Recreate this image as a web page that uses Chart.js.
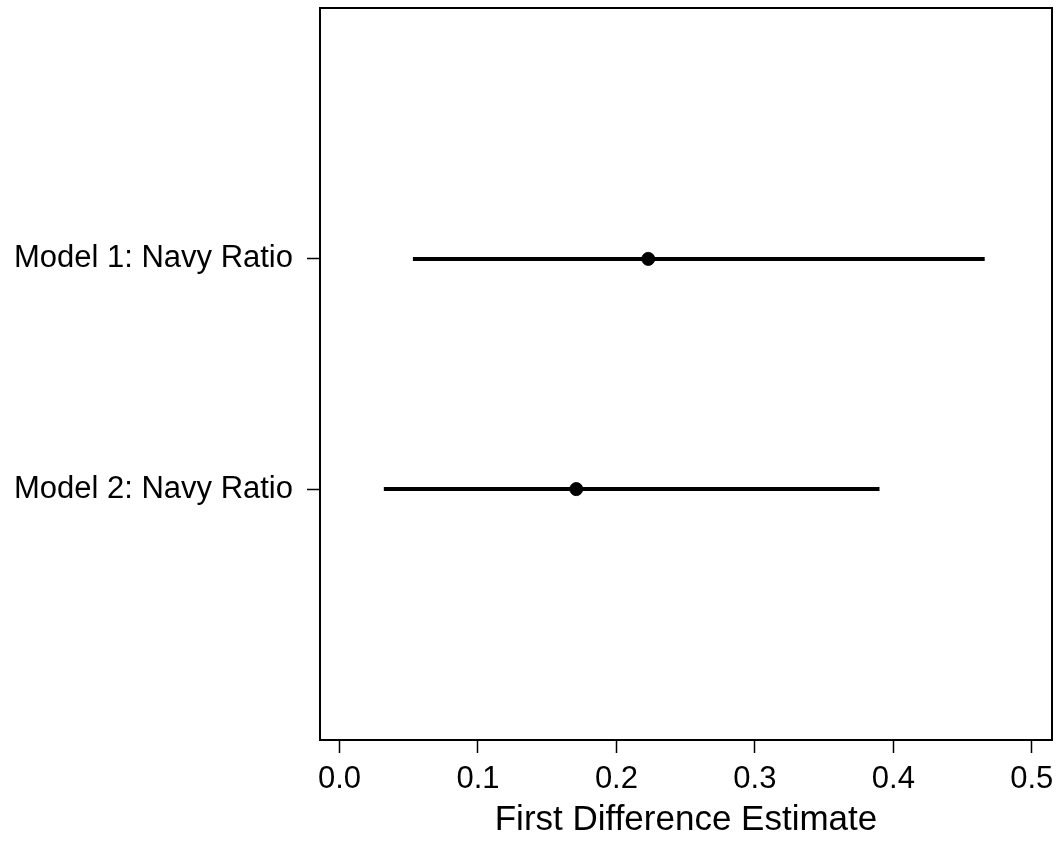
<!DOCTYPE html>
<html>
<head>
<meta charset="utf-8">
<script src="https://cdn.jsdelivr.net/npm/chart.js@4/dist/chart.umd.min.js"></script>
<style>
  body { margin: 0; background: #fff; }
  canvas { display: block; }
</style>
</head>
<body>
<canvas id="fdChart" width="1060" height="841"></canvas>
<script>
// models and first-difference estimates with intervals
const models = ["Model 1: Navy Ratio", "Model 2: Navy Ratio"];
const estimates = [0.223, 0.171];
const lower = [0.053, 0.032];
const upper = [0.466, 0.390];
const xTicks = [0.0, 0.1, 0.2, 0.3, 0.4, 0.5];

// rows counted from bottom, first model on top
const rowPos = models.map((m, i) => models.length - i);

const font = "'Liberation Sans', Arial, sans-serif";

const datasets = [];
models.forEach((m, i) => {
  datasets.push({
    type: "line",
    data: [{ x: lower[i], y: rowPos[i] }, { x: upper[i], y: rowPos[i] }],
    borderColor: "#000",
    borderWidth: 4,
    pointRadius: 0,
    fill: false
  });
});
datasets.push({
  type: "scatter",
  data: models.map((m, i) => ({ x: estimates[i], y: rowPos[i] })),
  backgroundColor: "#000",
  borderColor: "#000",
  pointRadius: 6.5,
  pointHoverRadius: 6.5
});

// box round the plot area
const boxPlugin = {
  id: "box",
  afterDraw(chart) {
    const a = chart.chartArea;
    const ctx = chart.ctx;
    ctx.save();
    ctx.strokeStyle = "#000";
    ctx.lineWidth = 2;
    ctx.strokeRect(a.left, a.top, a.right - a.left, a.bottom - a.top);
    ctx.restore();
  }
};

new Chart(document.getElementById("fdChart").getContext("2d"), {
  type: "scatter",
  data: { datasets: datasets },
  plugins: [boxPlugin],
  options: {
    responsive: false,
    animation: false,
    layout: { padding: { top: 8, right: 8, left: 0, bottom: 0 } },
    plugins: { legend: { display: false }, tooltip: { enabled: false } },
    scales: {
      x: {
        type: "linear",
        position: "bottom",
        min: -0.0141,
        max: 0.5146,
        afterBuildTicks: s => { s.ticks = xTicks.map(v => ({ value: v })); },
        afterFit: s => { s.height = 101; s.paddingLeft = 0; s.paddingRight = 0; },
        grid: { drawOnChartArea: false, drawTicks: true, tickLength: 13, tickColor: "#000", tickWidth: 1.5 },
        border: { display: true, color: "#000", width: 2 },
        ticks: {
          color: "#000",
          font: { family: font, size: 31 },
          padding: 8,
          maxRotation: 0,
          callback: v => v.toFixed(1)
        },
        title: {
          display: true,
          text: "First Difference Estimate",
          color: "#000",
          font: { family: font, size: 35 },
          padding: { top: 0, bottom: 0 }
        }
      },
      y: {
        type: "linear",
        min: -0.09,
        max: 3.09,
        afterBuildTicks: s => { s.ticks = rowPos.map(v => ({ value: v })); },
        afterFit: s => { s.width = 320; s.paddingTop = 0; s.paddingBottom = 0; },
        grid: { drawOnChartArea: false, drawTicks: true, tickLength: 13, tickColor: "#000", tickWidth: 1.5 },
        border: { display: true, color: "#000", width: 2 },
        ticks: {
          color: "#000",
          font: { family: font, size: 31 },
          padding: 14,
          callback: v => models[rowPos.indexOf(v)]
        }
      }
    }
  }
});
</script>
</body>
</html>
